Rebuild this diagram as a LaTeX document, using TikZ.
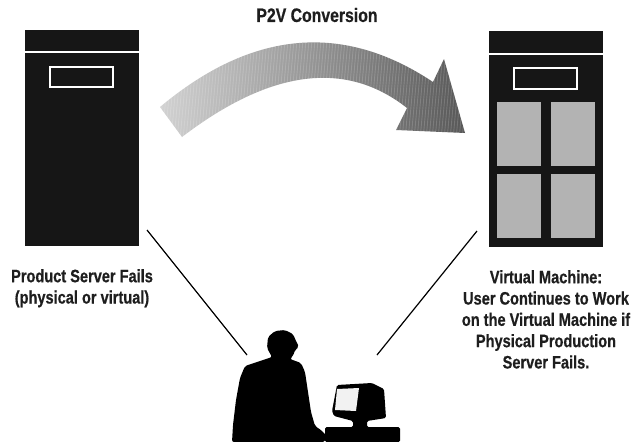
\documentclass[tikz,border=0pt]{standalone}
\usepackage{fontspec}
\setmainfont[FakeStretch=0.81, BoldFeatures={FakeBold=0.6}]{Liberation Sans}
\definecolor{srv}{HTML}{161616}
\definecolor{panel}{HTML}{B3B3B3}
\definecolor{arrowL}{HTML}{D2D2D2}
\definecolor{arrowR}{HTML}{575757}
\definecolor{ink}{HTML}{1E1E1E}
% outline of the curved conversion arrow
\newcommand\arrowoutline{(182,137) -- (160,107) .. controls (252,30) and (343,22) .. (433,82)
  -- (444,59) -- (465,133) -- (396,130) -- (407,108)
  .. controls (346,60) and (271,69) .. (182,137) -- cycle}
\begin{document}
\begin{tikzpicture}[x=1pt,y=-1pt,
  serverbox/.style={fill=srv, draw=none, inner sep=0pt, minimum width=114pt, minimum height=216pt},
  bay/.style={draw=white, line width=1.8pt, fill=srv},
  slot/.style={fill=panel},
  divider/.style={draw=white, line width=1.5pt},
  caption/.style={font=\fontsize{18}{21.3}\selectfont\bfseries, align=center, text=ink, inner sep=0pt},
  link/.style={line width=1.2pt, black}]
\useasboundingbox (0,0) rectangle (633,442);

% physical server
\node[serverbox] (phys) at (82,138) {};
\draw[divider] (25,52) -- (139,52);
\draw[bay] (50,67) rectangle (113,87);

% virtual host with four guest slots
\node[serverbox] (virt) at (546,139) {};
\draw[divider] (489,54) -- (603,54);
\draw[bay] (514,68) rectangle (577,89);
\fill[slot] (497,102) rectangle (541,166);
\fill[slot] (551,102) rectangle (595,166);
\fill[slot] (497,174) rectangle (541,238);
\fill[slot] (551,174) rectangle (595,238);

% P2V arrow
\shade[left color=arrowL, right color=arrowR] \arrowoutline;
\begin{scope}
  \clip \arrowoutline;
  \foreach \x in {150,153,...,480}
    \draw[white, opacity=0.16, line width=0.9pt] (\x,140) -- (\x+9,40);
\end{scope}

% captions
\node[caption, font=\fontsize{19.5}{23}\selectfont\bfseries] (title) at (317,15) {P2V Conversion};
\node[caption, anchor=north] (physcap) at (82,269) {Product Server Fails\\(physical or virtual)};
\node[caption, anchor=north] (virtcap) at (546,270) {Virtual Machine:\\User Continues to Work\\on the Virtual Machine if\\Physical Production\\Server Fails.};

% user at workstation
\fill[black, rounded corners=2pt] (272,357) -- (267,348) -- (268,337) -- (275,331) -- (285,330)
  -- (293,334) -- (296,341) -- (299,347) -- (295,350) -- (293,356) -- (290,359) -- (301,363)
  -- (305,372) -- (308,392) -- (311,412) -- (315,426) -- (321,430) -- (327,436) -- (325,442)
  -- (232,442) -- (233,425) -- (236,400) -- (240,378) -- (245,366) -- cycle;
\fill[black, rounded corners=1.5pt] (337,385) -- (372,383) -- (384,389) -- (386,418) -- (367,421)
  -- (367,427) -- (400,427) -- (400,442) -- (325,442) -- (325,427) -- (353,427) -- (353,421)
  -- (334,416) -- (332,411) -- cycle;
\fill[gray!10] (337,389) -- (359,388) -- (356,411) -- (335,410) -- cycle;
\coordinate (user) at (247,355);
\coordinate (desk) at (377,355);

% links from each server to the user
\coordinate (physlink) at (147,230);
\coordinate (virtlink) at (477,231);
\draw[link] (physlink) -- (user);
\draw[link] (virtlink) -- (desk);
\end{tikzpicture}
\end{document}
